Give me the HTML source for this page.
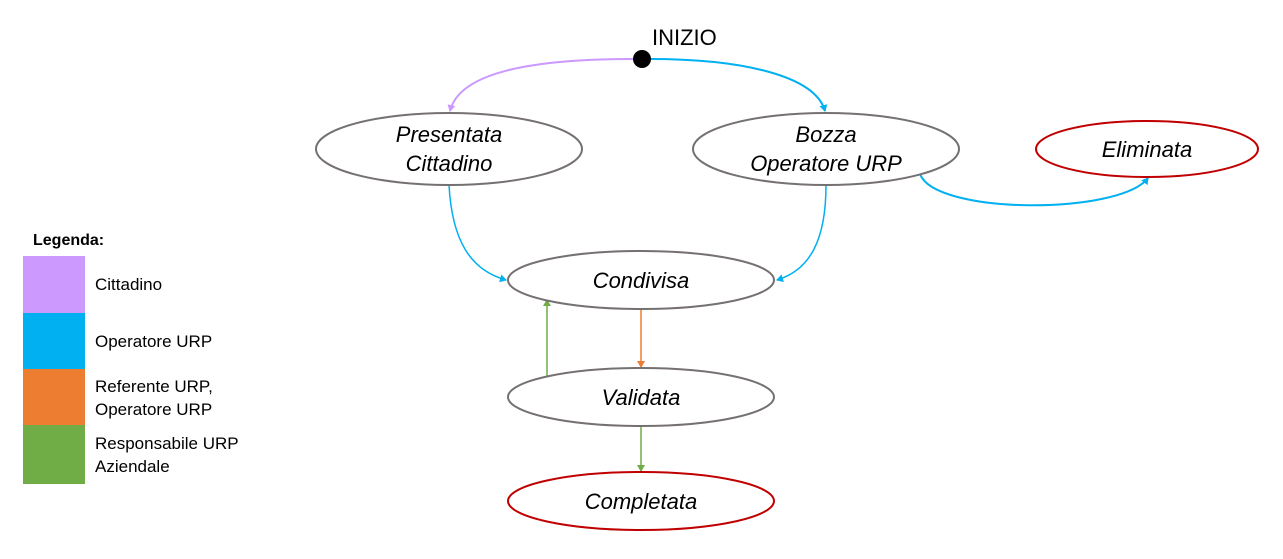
<!DOCTYPE html>
<html><head><meta charset="utf-8"><style>
html,body{margin:0;padding:0;background:#fff;}
svg text{font-family:"Liberation Sans",sans-serif;}
</style></head><body>
<svg width="1283" height="554" viewBox="0 0 1283 554" xmlns="http://www.w3.org/2000/svg">
<defs>
<marker id="ab" markerWidth="8" markerHeight="8" refX="6" refY="4" orient="auto" markerUnits="userSpaceOnUse"><path d="M0,0 L7,4 L0,8 Z" fill="#00b0f0"/></marker>
<marker id="ap" markerWidth="8" markerHeight="8" refX="6" refY="4" orient="auto" markerUnits="userSpaceOnUse"><path d="M0,0 L7,4 L0,8 Z" fill="#cc99ff"/></marker>
<marker id="ao" markerWidth="8" markerHeight="8" refX="6" refY="4" orient="auto" markerUnits="userSpaceOnUse"><path d="M0,0 L7,4 L0,8 Z" fill="#ed7d31"/></marker>
<marker id="ag" markerWidth="8" markerHeight="8" refX="6" refY="4" orient="auto" markerUnits="userSpaceOnUse"><path d="M0,0 L7,4 L0,8 Z" fill="#70ad47"/></marker>
</defs>
<path d="M634,59 C540,59 460,70 450,111" fill="none" stroke="#cc99ff" stroke-width="2" marker-end="url(#ap)"/>
<path d="M650,59 C740,59 815,75 825,111" fill="none" stroke="#00b0f0" stroke-width="2" marker-end="url(#ab)"/>
<path d="M449,185 C452,240 470,270 506,280" fill="none" stroke="#00b0f0" stroke-width="1.5" marker-end="url(#ab)"/>
<path d="M826,185 C826,240 810,270 777,280" fill="none" stroke="#00b0f0" stroke-width="1.5" marker-end="url(#ab)"/>
<path d="M920,174 C935,215 1120,215 1148,178" fill="none" stroke="#00b0f0" stroke-width="2" marker-end="url(#ab)"/>
<path d="M641,309 L641,367" fill="none" stroke="#ed7d31" stroke-width="1.5" marker-end="url(#ao)"/>
<path d="M547,378 L547,300" fill="none" stroke="#70ad47" stroke-width="1.5" marker-end="url(#ag)"/>
<path d="M641,426 L641,471" fill="none" stroke="#70ad47" stroke-width="1.5" marker-end="url(#ag)"/>
<circle cx="642" cy="59" r="9" fill="#000"/>
<text x="652" y="45" font-size="22">INIZIO</text>
<g fill="#fff" stroke-width="2">
<ellipse cx="449" cy="149" rx="133" ry="36" stroke="#767171"/>
<ellipse cx="826" cy="149" rx="133" ry="36" stroke="#767171"/>
<ellipse cx="1147" cy="149" rx="111" ry="28" stroke="#c00000"/>
<ellipse cx="641" cy="280" rx="133" ry="29" stroke="#767171"/>
<ellipse cx="641" cy="397" rx="133" ry="29" stroke="#767171"/>
<ellipse cx="641" cy="501" rx="133" ry="29" stroke="#c00000"/>
</g>
<g font-size="22" font-style="italic" text-anchor="middle">
<text x="449" y="142">Presentata</text>
<text x="449" y="171">Cittadino</text>
<text x="826" y="142">Bozza</text>
<text x="826" y="171">Operatore URP</text>
<text x="1147" y="157">Eliminata</text>
<text x="641" y="288">Condivisa</text>
<text x="641" y="405">Validata</text>
<text x="641" y="509">Completata</text>
</g>
<text x="33" y="245" font-size="16" font-weight="bold">Legenda:</text>
<rect x="23" y="256" width="62" height="57" fill="#cc99ff"/>
<rect x="23" y="313" width="62" height="56" fill="#00b0f0"/>
<rect x="23" y="369" width="62" height="56" fill="#ed7d31"/>
<rect x="23" y="425" width="62" height="59" fill="#70ad47"/>
<g font-size="17">
<text x="95" y="290">Cittadino</text>
<text x="95" y="347">Operatore URP</text>
<text x="95" y="392">Referente URP,</text>
<text x="95" y="415">Operatore URP</text>
<text x="95" y="449">Responsabile URP</text>
<text x="95" y="472">Aziendale</text>
</g>
</svg>
</body></html>
